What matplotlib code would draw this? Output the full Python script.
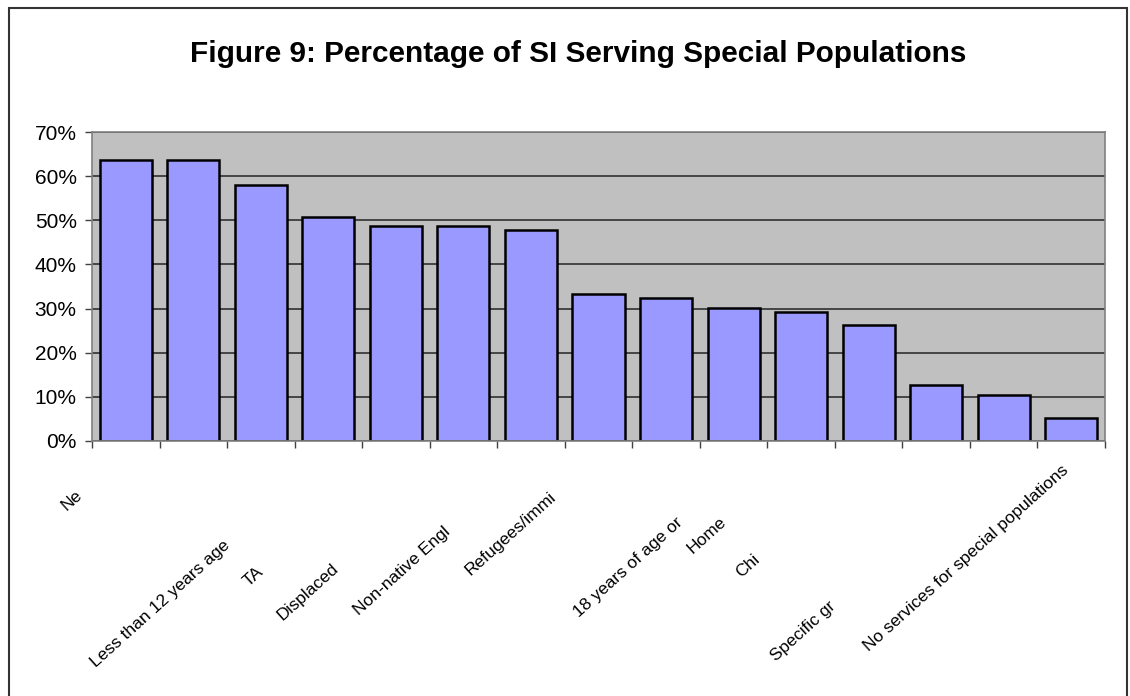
import matplotlib.pyplot as plt
from matplotlib.patches import Rectangle
from matplotlib.ticker import FuncFormatter

plt.rcParams['font.family'] = ['Liberation Sans', 'DejaVu Sans']

title = 'Figure 9: Percentage of SI Serving Special Populations'
values = [63.6, 63.6, 58.1, 50.8, 48.7, 48.7, 47.8, 33.4, 32.4, 30.2, 29.3, 26.3, 12.7, 10.4, 5.3]
yticks = [0, 10, 20, 30, 40, 50, 60, 70]

# category text as it ends up printed under the axis (clipped by the rotation)
cat_labels = ['Ne', 'Less than 12 years age', 'TA', 'Displaced', 'Non-native Engl',
              'Refugees/immi', '18 years of age or', 'Home', 'Chi', 'Specific gr',
              'No services for special populations']
# right-hand end of each rotated label, in pixels from the top-left corner
label_ends = [(80, 493), (228, 543), (261, 570), (336, 566), (448, 530), (554, 495),
              (680, 520), (724, 520), (758, 557), (833, 604), (1066, 468)]

W, H = 1130, 696
fig = plt.figure(figsize=(W / 100, H / 100), dpi=100)
fig.patch.set_facecolor('white')

# outer chart frame
fig.patches.append(Rectangle((9 / W, -0.05), (1127 - 9) / W, 1.05 - 8 / H,
                             transform=fig.transFigure, fill=False,
                             edgecolor='#333333', linewidth=1.5))

fig.text(578 / W, 1 - 54 / H, title, ha='center', va='center',
         fontsize=21.4, fontweight='bold')

ax = fig.add_axes([92 / W, 1 - 441 / H, (1105 - 92) / W, (441 - 132) / H])
ax.set_facecolor('#C0C0C0')
ax.set_axisbelow(True)
ax.grid(axis='y', color='#303030', linewidth=1.2)

x = range(len(values))
ax.bar(x, values, width=0.77, color='#9999FF', edgecolor='black', linewidth=1.8)

ax.set_xlim(-0.5, len(values) - 0.5)
ax.set_ylim(0, 70)
ax.set_yticks(yticks)
ax.yaxis.set_major_formatter(FuncFormatter(lambda v, p: f'{v:.0f}%'))
ax.set_xticks([i - 0.5 for i in range(len(values) + 1)])
ax.set_xticklabels([])
ax.tick_params(axis='both', direction='out', length=5, width=1, color='#404040')
ax.tick_params(axis='y', labelsize=15, pad=6)
for s in ax.spines.values():
    s.set_color('#808080')
    s.set_linewidth(1.2)

for txt, (px, py) in zip(cat_labels, label_ends):
    fig.text(px / W, 1 - py / H, txt, rotation=42, rotation_mode='anchor',
             ha='right', va='center', fontsize=12.5)

fig.savefig('out.png', dpi=100)
